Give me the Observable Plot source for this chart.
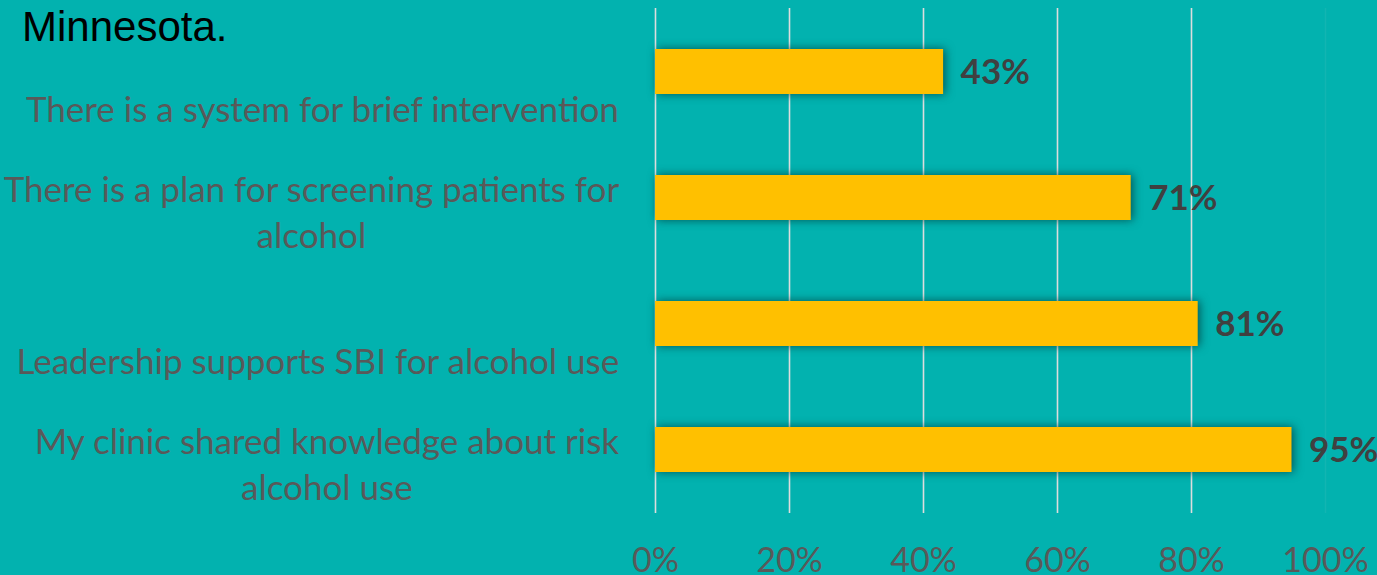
<!DOCTYPE html>
<html>
<head>
<meta charset="utf-8">
<script src="https://cdn.jsdelivr.net/npm/d3@7"></script>
<script src="https://cdn.jsdelivr.net/npm/@observablehq/plot@0.6"></script>
<style>
  html, body { margin: 0; padding: 0; background: #02B2AF; }
  #wrap { position: relative; width: 1377px; height: 575px; overflow: hidden; }
  #title { position: absolute; left: 22px; top: 6px; font-family: "Liberation Sans", Arial, sans-serif; font-size: 42px; line-height: 41px; color: #000; z-index: 2; }
  #wrap svg g[aria-label="bar"] rect { filter: drop-shadow(2px 0px 5px rgba(0,45,45,0.7)); }
</style>
</head>
<body>
<div id="wrap"><div id="title">Minnesota.</div></div>
<script>
const categories = [
  "There is a system for brief intervention",
  "There is a plan for screening patients for\nalcohol",
  "Leadership supports SBI for alcohol use",
  "My clinic shared knowledge about risk\nalcohol use"
];
const values = [0.43, 0.71, 0.81, 0.95];
const valueLabels = ["43%", "71%", "81%", "95%"];
const tickValues = [0, 0.2, 0.4, 0.6, 0.8, 1];
const tickLabels = ["0%", "20%", "40%", "60%", "80%", "100%"];

const data = categories.map((c, i) => ({category: c, value: values[i], label: valueLabels[i]}));

const FONT = "Lato, 'Open Sans', sans-serif";
const LABEL_SIZE = 35;
const canvas = document.createElement("canvas");
const ctx = canvas.getContext("2d");
ctx.font = `${LABEL_SIZE}px Lato`;
const firstLineWidth = (s) => ctx.measureText(s.split("\n")[0]).width;

const categoryMarks = data.map(d => Plot.text([d], {
  x: () => 0,
  y: "category",
  text: "category",
  textAnchor: "middle",
  lineAnchor: "bottom",
  lineHeight: 46 / LABEL_SIZE,
  dx: -36 - firstLineWidth(d.category) / 2,
  dy: 50,
  fill: "#595959",
  fontSize: LABEL_SIZE,
  fontFamily: FONT
}));

const chart = Plot.plot({
  width: 1377,
  height: 575,
  marginLeft: 655,
  marginRight: 52,
  marginTop: 8,
  marginBottom: 62,
  style: {background: "transparent", fontFamily: FONT, overflow: "visible"},
  x: {domain: [0, 1], ticks: tickValues, tickFormat: (d, i) => tickLabels[i], tickSize: 0, tickPadding: 34, label: null},
  y: {domain: categories, axis: null, paddingInner: 0.644, paddingOuter: 0.322},
  marks: [
    Plot.ruleX(tickValues.slice(0, 5), {stroke: "#DDDDDD", strokeWidth: 1.6}),
    Plot.ruleX(tickValues.slice(5), {stroke: "#DDDDDD", strokeWidth: 1.6, strokeOpacity: 0.08}),
    Plot.barX(data, {x: "value", y: "category", fill: "#FFC000"}),
    Plot.text(data, {x: "value", y: "category", text: "label", textAnchor: "start", dx: 17, dy: 1, fill: "#404040", fontWeight: "bold", fontSize: 35, fontFamily: FONT}),
    ...categoryMarks,
    Plot.axisX({ticks: tickValues, tickFormat: (d, i) => tickLabels[i], tickSize: 0, tickPadding: 34, fontSize: 34, fill: "#595959", fontFamily: FONT, label: null})
  ]
});
document.getElementById("wrap").appendChild(chart);
</script>
</body>
</html>
